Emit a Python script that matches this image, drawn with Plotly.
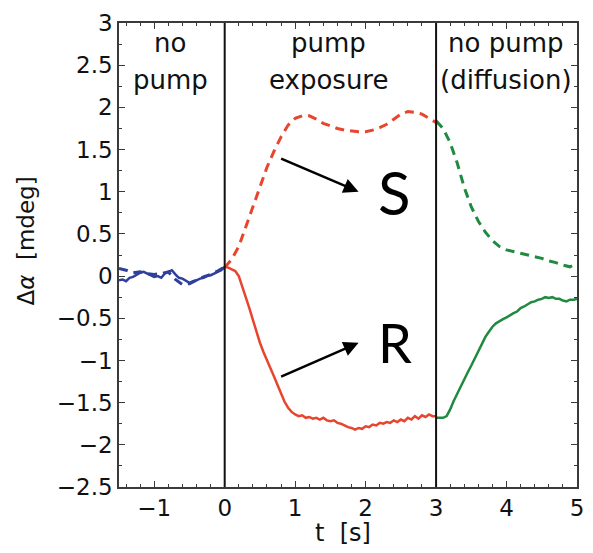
import numpy as np
import plotly.graph_objects as go

# ---- data -------------------------------------------------------------
# time grids (s)
t_pre_fine = np.round(np.arange(-1.5, 0.0001, 0.05), 2)
t_pre = np.round(np.arange(-1.5, 0.0001, 0.1), 2)
t_pump_fine = np.round(np.arange(0.0, 3.0001, 0.05), 2)
t_pump = np.round(np.arange(0.0, 3.0001, 0.1), 2)
t_post_fine = np.round(np.arange(3.0, 5.0001, 0.05), 2)
t_post = np.round(np.arange(3.0, 5.0001, 0.1), 2)

# no pump (baseline), R solid and S dashed
pre_R = [-0.05, -0.04, -0.06, -0.02, -0.01, 0.02, 0.04, 0.05, 0.03, 0.01, -0.01,
         0.00, -0.02, 0.03, 0.05, 0.07, 0.02, -0.02, -0.03, -0.06, -0.08, -0.06,
         -0.05, -0.03, -0.02, 0.00, 0.01, 0.03, 0.05, 0.07, 0.11]
pre_S = [0.09, 0.07, 0.04, 0.05, 0.03, 0.02, 0.03, 0.05, -0.04, -0.10, -0.09,
         -0.05, -0.01, 0.02, 0.06, 0.11]

# pump exposure
pump_R = [0.11, 0.10, 0.08, 0.06, 0.00, -0.12, -0.24, -0.38, -0.52, -0.67, -0.79,
          -0.90, -0.99, -1.09, -1.19, -1.29, -1.40, -1.49, -1.56, -1.61, -1.64,
          -1.66, -1.65, -1.68, -1.67, -1.69, -1.68, -1.70, -1.68, -1.71, -1.72,
          -1.71, -1.74, -1.75, -1.77, -1.79, -1.80, -1.82, -1.80, -1.81, -1.78,
          -1.79, -1.76, -1.77, -1.74, -1.75, -1.73, -1.74, -1.71, -1.73, -1.70,
          -1.72, -1.68, -1.70, -1.66, -1.69, -1.65, -1.67, -1.64, -1.66, -1.66]
pump_S = [0.10, 0.20, 0.35, 0.58, 0.82, 1.06, 1.29, 1.48, 1.65, 1.79, 1.87,
          1.90, 1.90, 1.86, 1.81, 1.78, 1.75, 1.73, 1.72, 1.71, 1.71, 1.73,
          1.76, 1.80, 1.86, 1.92, 1.95, 1.94, 1.92, 1.87, 1.82]

# no pump (diffusion)
post_R = [-1.68, -1.68, -1.68, -1.66, -1.58, -1.48, -1.39, -1.30, -1.22, -1.14,
          -1.06, -0.97, -0.88, -0.80, -0.72, -0.66, -0.60, -0.56, -0.53, -0.51,
          -0.49, -0.46, -0.44, -0.42, -0.38, -0.36, -0.33, -0.31, -0.30, -0.28,
          -0.27, -0.25, -0.26, -0.25, -0.27, -0.27, -0.29, -0.30, -0.28, -0.28, -0.27]
post_S = [1.84, 1.75, 1.58, 1.34, 1.05, 0.82, 0.65, 0.52, 0.42, 0.35, 0.31,
          0.29, 0.27, 0.25, 0.23, 0.21, 0.18, 0.16, 0.13, 0.11, 0.15]

phase_bounds = [0, 3]
phase_labels = [(-0.77, ["no", "pump"]),
                (1.48, ["pump", "exposure"]),
                (3.99, ["no pump", "(diffusion)"])]
x_ticks = [-1, 0, 1, 2, 3, 4, 5]
y_ticks = [-2.5, -2, -1.5, -1, -0.5, 0, 0.5, 1, 1.5, 2, 2.5, 3]

BLUE = "#2f3f9c"
RED = "#e8452f"
GREEN = "#1f8a40"
FONT = "DejaVu Sans"

fig = go.Figure()

def add_line(x, y, color, dashed):
    fig.add_trace(go.Scatter(
        x=x, y=y, mode="lines", showlegend=False, hoverinfo="skip",
        line=dict(color=color, width=3 if dashed else 2.5,
                  dash="9px,6px" if dashed else "solid"),
    ))

add_line(t_pre_fine, pre_R, BLUE, False)
add_line(t_pre, pre_S, BLUE, True)
add_line(t_pump_fine, pump_R, RED, False)
add_line(t_pump, pump_S, RED, True)
add_line(t_post_fine, post_R, GREEN, False)
add_line(t_post, post_S, GREEN, True)

# phase boundaries
for xb in phase_bounds:
    fig.add_shape(type="line", xref="x", yref="paper", x0=xb, x1=xb, y0=0, y1=1,
                  line=dict(color="#111111", width=2))

annotations = []
line_y = [2.76, 2.33]
for xc, lines in phase_labels:
    for yy, txt in zip(line_y, lines):
        annotations.append(dict(x=xc, y=yy, xref="x", yref="y", text=txt,
                                showarrow=False, xanchor="center", yanchor="middle",
                                font=dict(family=FONT, size=26, color="#111111")))

# enantiomer labels with arrows
annotations.append(dict(x=1.90, y=1.00, ax=0.78, ay=1.40, xref="x", yref="y",
                        axref="x", ayref="y", text="", showarrow=True,
                        arrowhead=2, arrowsize=1.2, arrowwidth=2.5, arrowcolor="#000000"))
annotations.append(dict(x=1.90, y=-0.79, ax=0.78, ay=-1.20, xref="x", yref="y",
                        axref="x", ayref="y", text="", showarrow=True,
                        arrowhead=2, arrowsize=1.2, arrowwidth=2.5, arrowcolor="#000000"))
annotations.append(dict(x=2.41, y=1.00, xref="x", yref="y", text="S", showarrow=False,
                        xanchor="center", yanchor="middle",
                        font=dict(family="Lato", size=60, color="#000000")))
annotations.append(dict(x=2.41, y=-0.79, xref="x", yref="y", text="R", showarrow=False,
                        xanchor="center", yanchor="middle",
                        font=dict(family="Lato", size=54, color="#000000")))

# axis titles
annotations.append(dict(x=-0.202, y=0.53, xref="paper", yref="paper",
                        text="Δ<i>α</i>  [mdeg]", textangle=-90, showarrow=False,
                        xanchor="center", yanchor="middle",
                        font=dict(family=FONT, size=23, color="#111111")))
annotations.append(dict(x=0.49, y=-0.100, xref="paper", yref="paper",
                        text="t  [s]", showarrow=False,
                        xanchor="center", yanchor="middle",
                        font=dict(family=FONT, size=24, color="#111111")))

axis_common = dict(
    showline=True, linecolor="#3a3a3a", linewidth=1.5, mirror="ticks",
    ticks="inside", ticklen=6, tickwidth=1, tickcolor="#3a3a3a",
    showgrid=False, zeroline=False,
    tickfont=dict(family=FONT, size=23, color="#111111"),
)

fig.update_layout(
    width=593, height=553,
    margin=dict(l=119, r=9, t=23, b=66),
    paper_bgcolor="white", plot_bgcolor="white",
    annotations=annotations,
    xaxis=dict(range=[-1.5, 5], tickvals=x_ticks,
               minor=dict(dtick=0.2, ticks="inside", ticklen=3, tickcolor="#3a3a3a"),
               **axis_common),
    yaxis=dict(range=[-2.5, 3], tickvals=y_ticks,
               minor=dict(dtick=0.25, ticks="inside", ticklen=3, tickcolor="#3a3a3a"),
               **axis_common),
)

fig.write_html("out.html")
